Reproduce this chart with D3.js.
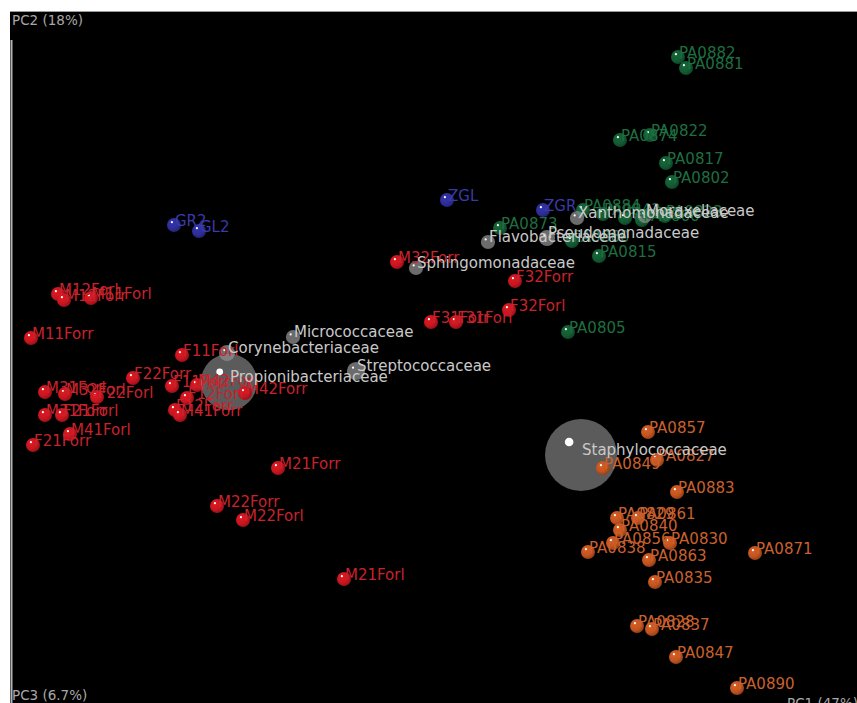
<!DOCTYPE html>
<html>
<head>
<meta charset="utf-8">
<script src="https://cdn.jsdelivr.net/npm/d3@7"></script>
<style>
  html, body { margin: 0; padding: 0; background: #fff; }
  svg { display: block; }
</style>
</head>
<body>
<div id="chart"></div>
<script>
// PCoA biplot: samples (coloured by body-site group) and taxa (grey, sized by abundance)

const sampleNames = [
  "M12Forl","M12Forr","M11Forl","M11Forr","M31Forl","M32Forl","F22Forl","M31Forr","F21Forl","M41Forl",
  "F21Forr","F22Forr","F11Forl","F11Forr","M42Forl","F12Forl","F12Forr","M41Forr","M42Forr","M21Forr",
  "M22Forr","M22Forl","M21Forl","M32Forr","F32Forr","F32Forl","F31Forr","F31Forl",
  "GR2","GL2","ZGL","ZGR",
  "PA0882","PA0881","PA0822","PA0874","PA0817","PA0802","PA0873","PA0884","PA0843","PA0812",
  "PA0866","PA0823","PA0860","PA0815","PA0805",
  "PA0857","PA0849","PA0827","PA0883","PA0829","PA0861","PA0840","PA0856","PA0830","PA0838",
  "PA0863","PA0871","PA0835","PA0828","PA0837","PA0847","PA0890"
];
const samplePC1 = [
  -0.372,-0.366,-0.339,-0.399,-0.385,-0.365,-0.333,-0.385,-0.368,-0.360,
  -0.397,-0.297,-0.248,-0.258,-0.233,-0.243,-0.255,-0.250,-0.185,-0.152,
  -0.213,-0.187,-0.086,-0.033,0.085,0.079,0.001,0.026,
  -0.256,-0.231,0.017,0.113,
  0.248,0.256,0.220,0.190,0.236,0.242,0.070,0.153,0.173,0.195,
  0.212,0.235,0.142,0.169,0.138,
  0.218,0.173,0.227,0.247,0.187,0.208,0.190,0.183,0.240,0.158,
  0.219,0.325,0.225,0.207,0.222,0.246,0.307
];
const samplePC2 = [
  0.066,0.060,0.062,0.022,-0.032,-0.034,-0.037,-0.055,-0.055,-0.074,
  -0.085,-0.018,0.005,-0.026,-0.025,-0.038,-0.050,-0.055,-0.033,-0.108,
  -0.146,-0.160,-0.219,0.098,0.079,0.050,0.038,0.038,
  0.135,0.129,0.160,0.150,
  0.303,0.292,0.225,0.220,0.197,0.178,0.132,0.150,0.146,0.142,
  0.140,0.144,0.119,0.104,0.028,
  -0.072,-0.108,-0.100,-0.132,-0.158,-0.158,-0.170,-0.183,-0.183,-0.192,
  -0.200,-0.193,-0.222,-0.266,-0.269,-0.297,-0.328
];
const sampleGroup = [
  "forearm","forearm","forearm","forearm","forearm","forearm","forearm","forearm","forearm","forearm",
  "forearm","forearm","forearm","forearm","forearm","forearm","forearm","forearm","forearm","forearm",
  "forearm","forearm","forearm","forearm","forearm","forearm","forearm","forearm",
  "glove","glove","glove","glove",
  "pa1","pa1","pa1","pa1","pa1","pa1","pa1","pa1","pa1","pa1",
  "pa1","pa1","pa1","pa1","pa1",
  "pa2","pa2","pa2","pa2","pa2","pa2","pa2","pa2","pa2","pa2",
  "pa2","pa2","pa2","pa2","pa2","pa2","pa2"
];
// samples that sit in front of the taxon spheres along PC3
const frontSamples = ["M42Forr","PA0849"];

const taxaNames = [
  "Micrococcaceae","Corynebacteriaceae","Propionibacteriaceae","Streptococcaceae","Sphingomonadaceae",
  "Flavobacteriaceae","Pseudomonadaceae","Xanthomonadaceae","Moraxellaceae","Staphylococcaceae"
];
const taxaPC1 = [-0.137,-0.203,-0.201,-0.074,-0.014,0.058,0.117,0.147,0.215,0.151];
const taxaPC2 = [0.023,0.007,-0.022,-0.011,0.092,0.118,0.122,0.142,0.144,-0.095];
const taxaAbundance = [0.014,0.018,0.22,0.023,0.014,0.014,0.018,0.014,0.014,0.36];

const axisLabels = ["PC1 (47%)","PC2 (18%)","PC3 (6.7%)"];

const W = 857, H = 703;
const groupFill = { forearm: "#c8161f", glove: "#2e2e9a", pa1: "#135c33", pa2: "#c2541f" };
const groupText = { forearm: "#c8232c", glove: "#3a3aaa", pa1: "#1e6e40", pa2: "#c9602e" };

const x = d3.scaleLinear().domain([-0.42, 0.427]).range([10, 857]);
const y = d3.scaleLinear().domain([0.349, -0.343]).range([11, 703]);
const rTaxa = d3.scaleSqrt().domain([0, 1]).range([0, 60]);
const rSample = 7;

const samples = sampleNames.map((n, i) => ({
  name: n, pc1: samplePC1[i], pc2: samplePC2[i], group: sampleGroup[i]
}));
const taxa = taxaNames.map((n, i) => ({
  name: n, pc1: taxaPC1[i], pc2: taxaPC2[i], ab: taxaAbundance[i]
}));

const svg = d3.select("#chart").append("svg")
  .attr("width", W).attr("height", H);

const defs = svg.append("defs");
Object.entries(groupFill).forEach(([g, c]) => {
  const base = d3.color(c);
  const grad = defs.append("radialGradient")
    .attr("id", "sph-" + g)
    .attr("cx", "40%").attr("cy", "38%").attr("r", "62%")
    .attr("fx", "35%").attr("fy", "32%");
  grad.append("stop").attr("offset", "0%").attr("stop-color", base.brighter(0.35));
  grad.append("stop").attr("offset", "65%").attr("stop-color", base);
  grad.append("stop").attr("offset", "100%").attr("stop-color", base.darker(0.7));
});

// black viewport
svg.append("rect")
  .attr("x", 10).attr("y", 11).attr("width", W - 10).attr("height", H - 11)
  .attr("fill", "#000");
svg.append("line")
  .attr("x1", 10).attr("x2", W).attr("y1", 11.5).attr("y2", 11.5)
  .attr("stroke", "#9a9a9a").attr("stroke-width", 1);
svg.append("line")
  .attr("x1", 11.5).attr("x2", 11.5).attr("y1", 40).attr("y2", H)
  .attr("stroke", "#b4b4b4").attr("stroke-width", 2);

function drawSamples(data) {
  const g = svg.append("g").selectAll("g").data(data).join("g")
    .attr("transform", d => `translate(${x(d.pc1)},${y(d.pc2)})`);
  g.append("circle").attr("r", rSample)
    .attr("fill", d => `url(#sph-${d.group})`);
  g.append("circle")
    .attr("cx", -rSample * 0.3).attr("cy", -rSample * 0.4).attr("r", 1.1)
    .attr("fill", "#fff");
}

drawSamples(samples.filter(d => !frontSamples.includes(d.name)));

// taxon spheres
const tg = svg.append("g").selectAll("g").data(taxa).join("g")
  .attr("transform", d => `translate(${x(d.pc1)},${y(d.pc2)})`);
tg.append("circle")
  .attr("r", d => rTaxa(d.ab))
  .attr("fill", "#8a8a8a")
  .attr("fill-opacity", d => rTaxa(d.ab) > 20 ? 0.66 : 0.78);
tg.append("circle")
  .attr("cx", d => -rTaxa(d.ab) * 0.33)
  .attr("cy", d => -rTaxa(d.ab) * 0.36)
  .attr("r", d => Math.max(1.1, rTaxa(d.ab) * 0.12))
  .attr("fill", "#fff");

drawSamples(samples.filter(d => frontSamples.includes(d.name)));

// labels
const font = "'DejaVu Sans', Verdana, sans-serif";
svg.append("g").selectAll("text").data(samples).join("text")
  .attr("x", d => x(d.pc1) + 1)
  .attr("y", d => y(d.pc2) + 1)
  .attr("font-family", font).attr("font-size", 15)
  .attr("fill", d => groupText[d.group])
  .text(d => d.name);

svg.append("g").selectAll("text").data(taxa).join("text")
  .attr("x", d => x(d.pc1) + 1)
  .attr("y", d => y(d.pc2))
  .attr("font-family", font).attr("font-size", 15)
  .attr("fill", "#c9c9c9")
  .text(d => d.name);

// axis titles
const axisText = svg.append("g")
  .attr("font-family", font).attr("font-size", 13.5).attr("fill", "#a8a8a8");
axisText.append("text").attr("x", 12).attr("y", 25).text(axisLabels[1]);
axisText.append("text").attr("x", 12).attr("y", 700).text(axisLabels[2]);
axisText.append("text").attr("x", 787).attr("y", 708).text(axisLabels[0]);
</script>
</body>
</html>
